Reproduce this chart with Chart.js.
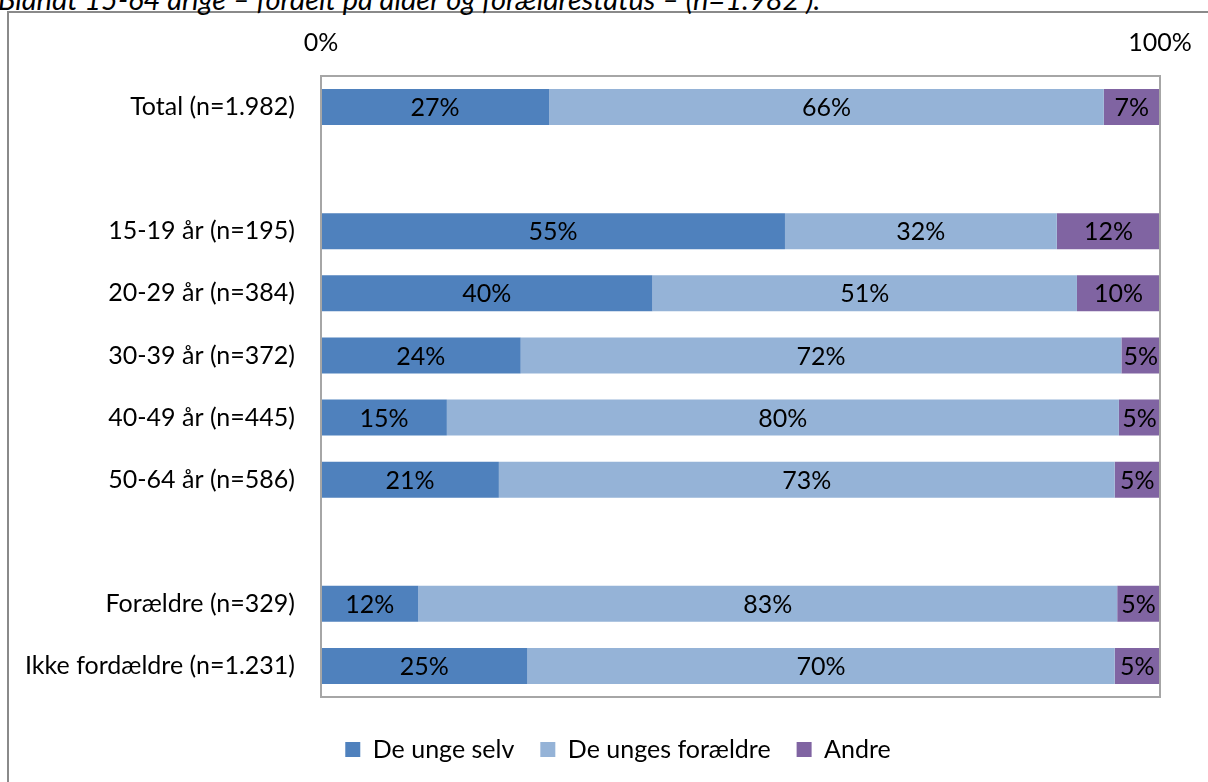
<!DOCTYPE html>
<html>
<head>
<meta charset="utf-8">
<script src="https://cdn.jsdelivr.net/npm/chart.js@4/dist/chart.umd.min.js"></script>
<style>
    html, body { margin: 0; padding: 0; background: #fff; overflow: hidden; }
    #wrap { position: relative; width: 1208px; height: 782px; }
    #frame { position: absolute; left: 7px; top: 11px; width: 1300px; height: 900px; border: 2px solid #8a8a8a; }
    #title { position: absolute; left: -2px; top: -15px; font: italic 29px/28px Lato, sans-serif; color: #000; white-space: nowrap; }
    canvas { position: absolute; left: 0; top: 0; }
</style>
</head>
<body>
<div id="wrap">
    <div id="frame"></div>
    <div id="title">Blandt 15-64 årige – fordelt på alder og forældrestatus – (n=1.982 ).</div>
    <canvas id="chart" width="1208" height="782"></canvas>
</div>
<script>
const categories = ['Total (n=1.982)', '', '15-19 år (n=195)', '20-29 år (n=384)', '30-39 år (n=372)',
    '40-49 år (n=445)', '50-64 år (n=586)', '', 'Forældre (n=329)', 'Ikke fordældre (n=1.231)'];
const ungeSelv = [27.2, null, 55.3, 39.5, 23.8, 15.0, 21.2, null, 11.6, 24.6];
const ungesForaeldre = [66.1, null, 32.4, 50.6, 71.6, 80.1, 73.4, null, 83.3, 70.0];
const andre = [6.7, null, 12.3, 9.9, 4.6, 4.9, 5.4, null, 5.1, 5.4];
const xTicks = [0, 100];

const FONT = 'Lato, sans-serif';
const SIZE = 25;

// draws the % inside each segment
const segmentLabels = {
    id: 'segmentLabels',
    afterDatasetsDraw(chart) {
        const ctx = chart.ctx;
        ctx.save();
        ctx.font = SIZE + 'px ' + FONT;
        ctx.fillStyle = '#000';
        ctx.textAlign = 'center';
        ctx.textBaseline = 'middle';
        chart.data.datasets.forEach((ds, i) => {
            chart.getDatasetMeta(i).data.forEach((bar, j) => {
                const v = ds.data[j];
                if (v == null) return;
                const { x, y, base } = bar.getProps(['x', 'y', 'base'], true);
                ctx.fillText(Math.round(v) + '%', (x + base) / 2, y + 1);
            });
        });
        ctx.restore();
    }
};

// grey frame round the plot area
const plotFrame = {
    id: 'plotFrame',
    afterDraw(chart) {
        const { left, top, right, bottom } = chart.chartArea;
        const ctx = chart.ctx;
        ctx.save();
        ctx.strokeStyle = '#a6a6a6';
        ctx.lineWidth = 2;
        ctx.strokeRect(left, top, right - left, bottom - top);
        ctx.restore();
    }
};

// legend in the original sits a bit right of centre
const legendShift = {
    id: 'legendShift',
    afterLayout(chart) {
        chart.legend.left += 33;
        chart.legend.right += 33;
    }
};

const ds = (label, data, color) => ({
    label, data,
    backgroundColor: color,
    borderWidth: 0,
    barPercentage: 0.58,
    categoryPercentage: 1
});

new Chart(document.getElementById('chart'), {
    type: 'bar',
    data: {
        labels: categories,
        datasets: [
            ds('De unge selv', ungeSelv, '#4f81bd'),
            ds('De unges forældre', ungesForaeldre, '#95b3d7'),
            ds('Andre', andre, '#8064a2')
        ]
    },
    options: {
        indexAxis: 'y',
        responsive: false,
        animation: false,
        layout: { padding: { top: 20, left: 10, right: 48, bottom: 10 } },
        scales: {
            x: {
                position: 'top',
                stacked: true,
                min: 0,
                max: 100,
                afterBuildTicks: s => { s.ticks = xTicks.map(v => ({ value: v })); },
                ticks: { callback: v => v + '%', color: '#000', font: { family: FONT, size: SIZE }, padding: 10, maxRotation: 0 },
                grid: { display: false },
                border: { display: false },
                afterFit: s => { s.height = 56; }
            },
            // empty axis, only keeps a gap above the legend
            gap: {
                type: 'linear',
                position: 'bottom',
                ticks: { display: false },
                grid: { display: false },
                border: { display: false },
                afterFit: s => { s.height = 14; }
            },
            y: {
                stacked: true,
                ticks: { color: '#000', font: { family: FONT, size: SIZE }, padding: 18, autoSkip: false },
                grid: { display: false },
                border: { display: false },
                afterFit: s => { s.width = 311; }
            }
        },
        plugins: {
            legend: {
                position: 'bottom',
                labels: {
                    color: '#000',
                    font: { family: FONT, size: SIZE },
                    boxWidth: 15,
                    boxHeight: 15,
                    padding: 26
                }
            },
            tooltip: { enabled: false }
        }
    },
    plugins: [segmentLabels, plotFrame, legendShift]
});
</script>
</body>
</html>
